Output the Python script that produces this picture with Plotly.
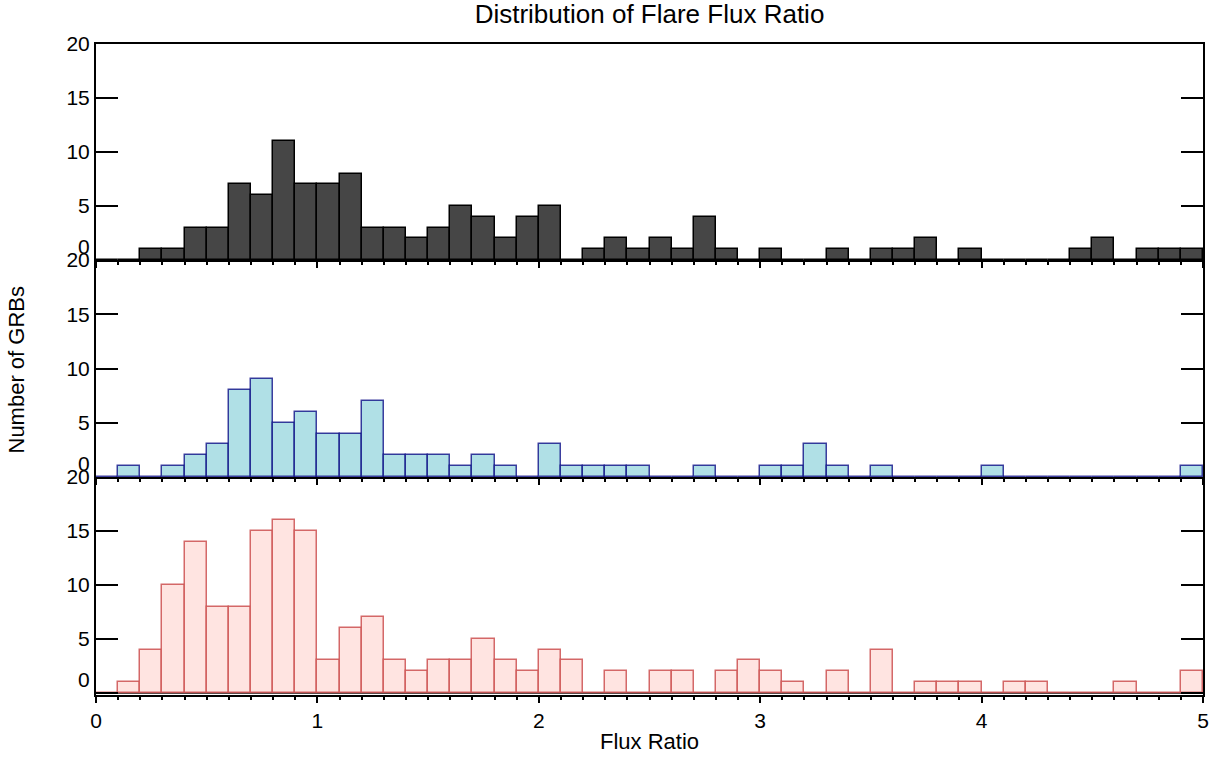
import plotly.graph_objects as go

# Histogram bins (left edges, width 0.1)
bin_lefts = [0.0, 0.1, 0.2, 0.3, 0.4, 0.5, 0.6, 0.7, 0.8, 0.9,
             1.0, 1.1, 1.2, 1.3, 1.4, 1.5, 1.6, 1.7, 1.8, 1.9,
             2.0, 2.1, 2.2, 2.3, 2.4, 2.5, 2.6, 2.7, 2.8, 2.9,
             3.0, 3.1, 3.2, 3.3, 3.4, 3.5, 3.6, 3.7, 3.8, 3.9,
             4.0, 4.1, 4.2, 4.3, 4.4, 4.5, 4.6, 4.7, 4.8, 4.9]
bin_width = 0.1

counts_top = [0, 0, 1, 1, 3, 3, 7, 6, 11, 7,
              7, 8, 3, 3, 2, 3, 5, 4, 2, 4,
              5, 0, 1, 2, 1, 2, 1, 4, 1, 0,
              1, 0, 0, 1, 0, 1, 1, 2, 0, 1,
              0, 0, 0, 0, 1, 2, 0, 1, 1, 1]

counts_mid = [0, 1, 0, 1, 2, 3, 8, 9, 5, 6,
              4, 4, 7, 2, 2, 2, 1, 2, 1, 0,
              3, 1, 1, 1, 1, 0, 0, 1, 0, 0,
              1, 1, 3, 1, 0, 1, 0, 0, 0, 0,
              1, 0, 0, 0, 0, 0, 0, 0, 0, 1]

counts_bot = [0, 1, 4, 10, 14, 8, 8, 15, 16, 15,
              3, 6, 7, 3, 2, 3, 3, 5, 3, 2,
              4, 3, 0, 2, 0, 2, 2, 0, 2, 3,
              2, 1, 0, 2, 0, 4, 0, 1, 1, 1,
              0, 1, 1, 0, 0, 0, 1, 0, 0, 2]

y_ticks = [0, 5, 10, 15, 20]
y_ticktext = ["0<br>&nbsp;", "5", "10", "15", "20"]
x_ticks = [0, 1, 2, 3, 4, 5]

FONT = "Liberation Sans, Arial, sans-serif"

fig = go.Figure()

panels = [
    (counts_top, "#464646", "#000000", "x", "y"),
    (counts_mid, "#B0E0E6", "rgba(0,0,128,0.75)", "x2", "y2"),
    (counts_bot, "#FFE4E1", "rgba(205,80,80,0.85)", "x3", "y3"),
]
for vals, fill, line, xa, ya in panels:
    fig.add_trace(go.Bar(
        x=bin_lefts, y=vals, width=bin_width, offset=0,
        marker=dict(color=fill, line=dict(color=line, width=1.5)),
        xaxis=xa, yaxis=ya, showlegend=False, hoverinfo="x+y",
    ))

# layout geometry (page pixels)
W, H = 1223, 757
P_TOP, P_BOT = 44, 695
ph = P_BOT - P_TOP
b1 = (P_BOT - 477) / ph
b2 = (P_BOT - 260) / ph

xcommon = dict(range=[0, 5], showline=True, linecolor="black", linewidth=2,
               ticks="outside", ticklen=6, tickwidth=2, tickcolor="black",
               tickvals=x_ticks, showgrid=False, zeroline=False,
               minor=dict(dtick=0.1, ticks="outside", ticklen=3, tickwidth=1.5,
                          tickcolor="black", showgrid=False),
               tickfont=dict(family=FONT, size=21, color="black"))
ycommon = dict(showline=True, linecolor="black", linewidth=2, mirror="ticks",
               ticks="inside", ticklen=22, tickwidth=2, tickcolor="black",
               tickvals=y_ticks, ticktext=y_ticktext, showgrid=False,
               tickfont=dict(family=FONT, size=21, color="black"))

fig.update_layout(
    width=W, height=H,
    paper_bgcolor="white", plot_bgcolor="white",
    margin=dict(l=96, r=20, t=P_TOP, b=H - P_BOT),
    bargap=0,
    xaxis=dict(**xcommon, anchor="y", showticklabels=False, mirror=True),
    xaxis2=dict(**xcommon, anchor="y2", showticklabels=False, matches="x"),
    xaxis3=dict(**xcommon, anchor="y3", showticklabels=True, matches="x"),
    yaxis=dict(**ycommon, domain=[b2, 1], range=[0, 20], zeroline=False),
    yaxis2=dict(**ycommon, domain=[b1, b2], range=[0, 20], zeroline=False),
    yaxis3=dict(**ycommon, domain=[0, b1], range=[-0.2, 20], zeroline=True,
                zerolinecolor="#5a4a4a", zerolinewidth=1.5),
    title=dict(text="Distribution of Flare Flux Ratio", x=0.5, xref="paper",
               y=1 - 14 / H, yref="container", yanchor="middle",
               font=dict(family=FONT, size=26, color="black")),
    annotations=[
        dict(text="Number of GRBs", xref="paper", yref="paper", x=0, y=0.5,
             xshift=-80, textangle=-90, showarrow=False,
             xanchor="center", yanchor="middle",
             font=dict(family=FONT, size=22, color="black")),
        dict(text="Flux Ratio", xref="paper", yref="paper", x=0.5, y=0,
             yshift=-46, showarrow=False, xanchor="center", yanchor="middle",
             font=dict(family=FONT, size=22, color="black")),
    ],
)

fig.write_html("out.html", config={"displayModeBar": False},
               post_script="document.body.style.margin='0';")
